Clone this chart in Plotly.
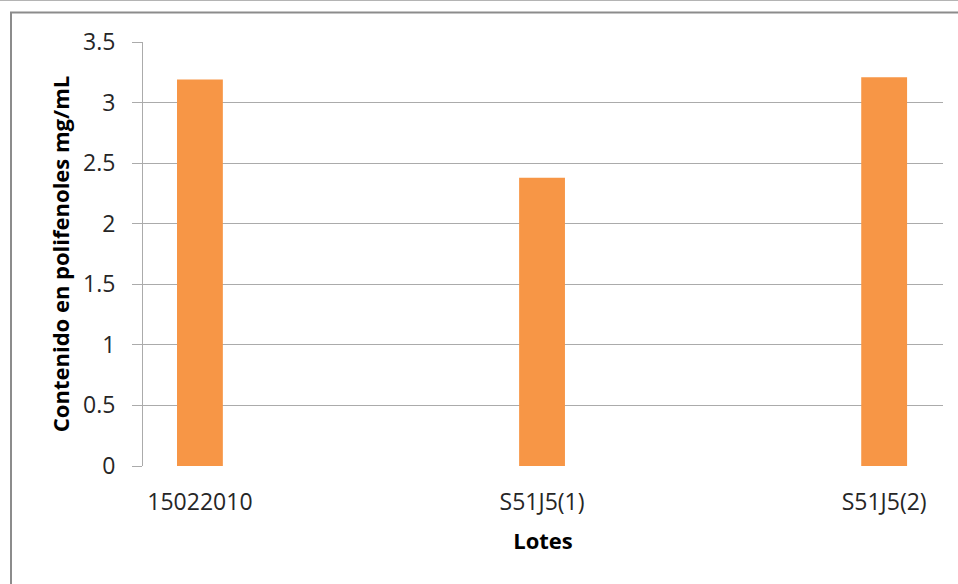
import plotly.graph_objects as go

# Polyphenol content per batch
lotes = ["15022010", "S51J5(1)", "S51J5(2)"]
contenido = [3.19, 2.38, 3.21]
y_ticks = [0, 0.5, 1, 1.5, 2, 2.5, 3, 3.5]
y_tick_text = ["0", "0.5", "1", "1.5", "2", "2.5", "3", "3.5"]

W, H = 958, 584
L, R, T, B = 143, 15, 42, 118

grid = "#ababab"
font_family = "Open Sans, Carlito, sans-serif"

fig = go.Figure(
    go.Bar(
        x=list(range(len(lotes))),
        y=contenido,
        width=0.134,
        marker=dict(color="#F79646", line=dict(width=0)),
    )
)

fig.update_layout(
    width=W,
    height=H,
    margin=dict(l=L, r=R, t=T, b=B, pad=0),
    paper_bgcolor="white",
    plot_bgcolor="white",
    showlegend=False,
    font=dict(family=font_family, size=22, color="#262626"),
)

fig.update_xaxes(
    range=[-0.1664, 2.172],
    tickmode="array",
    tickvals=list(range(len(lotes))),
    ticktext=lotes,
    showgrid=False,
    zeroline=False,
    showline=False,
    ticks="",
    ticklabelstandoff=20,
    tickfont=dict(size=23),
    title=dict(text="<b>Lotes</b>", font=dict(size=22, color="#000000"), standoff=17),
)

fig.update_yaxes(
    range=[0, 3.5],
    tickmode="array",
    tickvals=y_ticks,
    ticktext=y_tick_text,
    showgrid=True,
    gridcolor=grid,
    gridwidth=1,
    zeroline=False,
    showline=True,
    linecolor=grid,
    linewidth=1,
    ticks="outside",
    ticklen=10,
    tickcolor=grid,
    ticklabelstandoff=12,
    tickfont=dict(size=23),
    title=dict(
        text="<b>Contenido en polifenoles mg/mL</b>",
        font=dict(size=22, color="#000000"),
        standoff=7,
    ),
)

# Outer frame lines around the chart area
def px_x(p):
    return (p - L) / (W - L - R)

def px_y(p):
    return (H - B - p) / (H - T - B)

frame = "#8c8c8c"
fig.add_shape(type="line", xref="paper", yref="paper",
              x0=px_x(0), x1=px_x(W), y0=px_y(0.5), y1=px_y(0.5),
              line=dict(color="#b4b4b4", width=1))
fig.add_shape(type="line", xref="paper", yref="paper",
              x0=px_x(10), x1=px_x(W), y0=px_y(12.5), y1=px_y(12.5),
              line=dict(color=frame, width=2))
fig.add_shape(type="line", xref="paper", yref="paper",
              x0=px_x(11), x1=px_x(11), y0=px_y(12), y1=px_y(H),
              line=dict(color=frame, width=2))

fig.write_html("out.html")
